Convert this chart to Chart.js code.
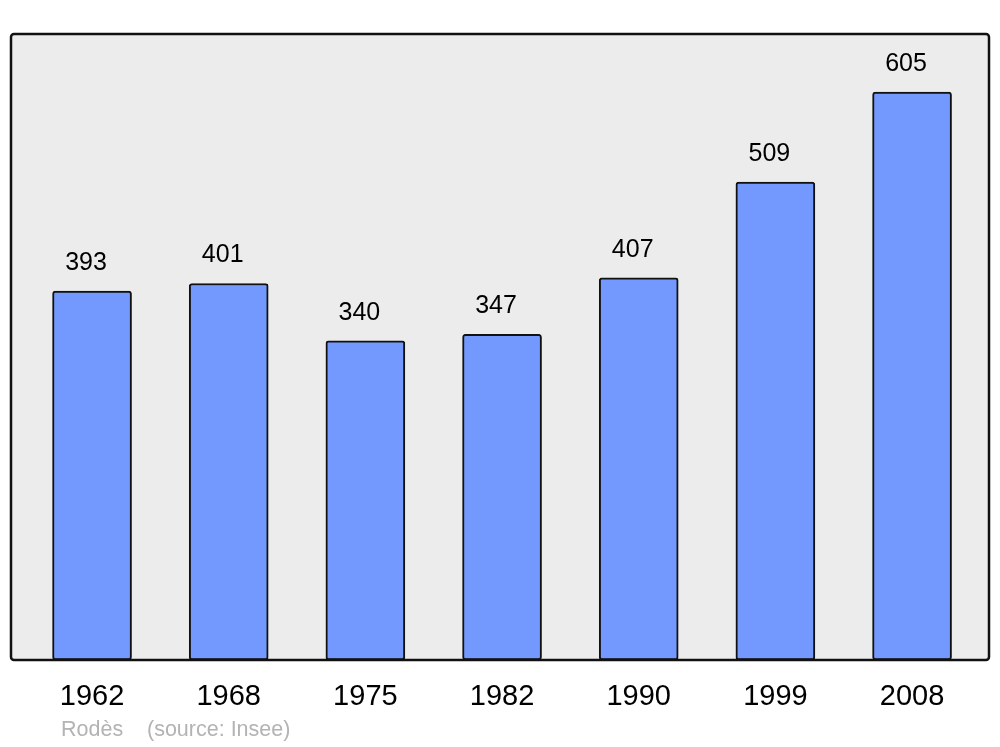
<!DOCTYPE html>
<html>
<head>
<meta charset="utf-8">
<script src="https://cdn.jsdelivr.net/npm/chart.js@4/dist/chart.umd.min.js"></script>
<style>
  html, body { margin: 0; padding: 0; background: #fff; }
  #wrap { width: 1000px; height: 747px; }
</style>
</head>
<body>
<div id="wrap"><canvas id="c" width="1000" height="747"></canvas></div>
<script>
const annees = ['1962', '1968', '1975', '1982', '1990', '1999', '2008'];
const population = [393, 401, 340, 347, 407, 509, 605];
const commune = 'Rodès';
const source = '(source: Insee)';

// fond gris + cadre + étiquettes
const cadre = {
  id: 'cadre',
  beforeDatasetsDraw(chart) {
    const { ctx, chartArea: a } = chart;
    ctx.save();
    ctx.fillStyle = '#ececec';
    ctx.beginPath();
    ctx.roundRect(a.left, a.top, a.right - a.left, a.bottom - a.top, 3);
    ctx.fill();
    ctx.restore();
  },
  afterDatasetsDraw(chart) {
    const { ctx, chartArea: a } = chart;
    ctx.save();
    ctx.strokeStyle = '#111';
    ctx.lineWidth = 2.5;
    ctx.beginPath();
    ctx.roundRect(a.left, a.top, a.right - a.left, a.bottom - a.top, 3);
    ctx.stroke();

    const meta = chart.getDatasetMeta(0);
    ctx.fillStyle = '#000';
    ctx.font = '25px "Liberation Sans", Arial, sans-serif';
    ctx.textAlign = 'center';
    ctx.textBaseline = 'middle';
    meta.data.forEach((b, i) => {
      ctx.fillText(String(population[i]), b.x - 6, b.y - 28);
    });

    ctx.fillStyle = '#b3b3b3';
    ctx.font = '21.5px "Liberation Sans", Arial, sans-serif';
    ctx.textAlign = 'left';
    ctx.fillText(commune, 61, 730);
    ctx.fillText(source, 147, 730);
    ctx.restore();
  }
};

new Chart(document.getElementById('c'), {
  type: 'bar',
  data: {
    datasets: [{
      data: population.map((v, i) => ({ x: i, y: v })),
      backgroundColor: '#7399ff',
      borderColor: '#111',
      borderWidth: 2,
      borderRadius: 3,
      borderSkipped: false,
      barThickness: 79
    }]
  },
  options: {
    responsive: false,
    animation: false,
    layout: { padding: { left: 11, right: 11, top: 34, bottom: 0 } },
    plugins: { legend: { display: false }, tooltip: { enabled: false } },
    scales: {
      x: {
        type: 'linear',
        offset: false,
        min: -0.593,
        max: 6.563,
        grid: { display: false },
        border: { display: false },
        afterBuildTicks(axis) { axis.ticks = annees.map((_, i) => ({ value: i })); },
        afterFit(axis) { axis.height = 87; },
        ticks: {
          padding: 12,
          color: '#000',
          font: { size: 29, family: '"Liberation Sans", Arial, sans-serif' },
          callback: (v) => annees[v]
        }
      },
      y: {
        display: false,
        min: 0,
        max: 666.8
      }
    }
  },
  plugins: [cadre]
});
</script>
</body>
</html>
